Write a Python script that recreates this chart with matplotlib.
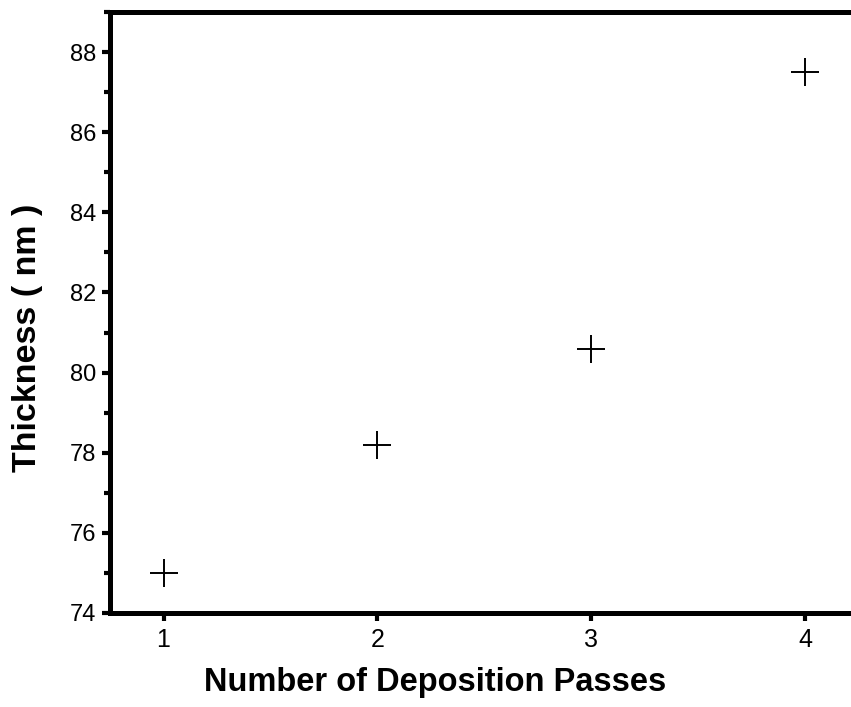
import numpy as np
import matplotlib.pyplot as plt
from matplotlib.ticker import MultipleLocator

passes = [1, 2, 3, 4]
thickness = [75.0, 78.2, 80.6, 87.5]

plt.rcParams['font.family'] = ['Liberation Sans', 'DejaVu Sans']

fig = plt.figure(figsize=(8.51, 7.07), dpi=100)
# axes run past the right edge of the figure, so the right spine is cut off
ax = fig.add_axes([0.1293, 0.133, 0.880, 0.850])

ax.plot(passes, thickness, linestyle='none', marker='+', color='black',
        markersize=20, markeredgewidth=1.4)

ax.set_xlim(0.75, 4.25)
ax.set_ylim(74, 89)
ax.xaxis.set_major_locator(MultipleLocator(1))
ax.yaxis.set_major_locator(MultipleLocator(2))
ax.yaxis.set_minor_locator(MultipleLocator(1))

for s in ax.spines.values():
    s.set_linewidth(3.6)
ax.spines['right'].set_visible(False)

ax.tick_params(which='major', direction='out', length=6, width=3,
               pad=4, top=False, right=False)
ax.tick_params(which='minor', direction='out', length=4, width=3,
               top=False, right=False)
ax.tick_params(axis='x', labelsize=18, pad=5)
ax.tick_params(axis='y', labelsize=17, pad=4)

ax.set_xlabel('Number of Deposition Passes', fontsize=23.5, fontweight='bold')
ax.set_ylabel('Thickness ( nm )', fontsize=24.5, fontweight='bold')
ax.xaxis.set_label_coords(0.434, -0.09)
ax.yaxis.set_label_coords(-0.09, 0.458)

fig.savefig('out.png', dpi=100)
